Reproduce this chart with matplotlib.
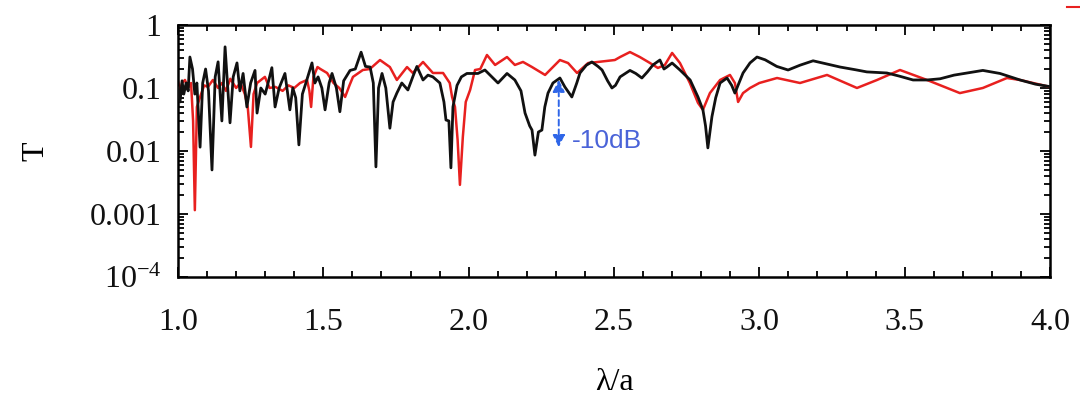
import matplotlib
matplotlib.use("Agg")
import matplotlib.pyplot as plt
from matplotlib.ticker import FixedLocator, FixedFormatter, MultipleLocator, LogLocator, NullFormatter
import numpy as np

# black series (lambda/a, T)
black_x = [1.0, 1.007, 1.014, 1.02, 1.028, 1.035, 1.041, 1.05, 1.058, 1.065, 1.076, 1.085, 1.095, 1.105,
           1.117, 1.128, 1.138, 1.151, 1.162, 1.17, 1.179, 1.19, 1.203, 1.213, 1.224, 1.237, 1.25, 1.265,
           1.272, 1.285, 1.3, 1.31, 1.323, 1.334, 1.348, 1.368, 1.385, 1.395, 1.405, 1.416, 1.428, 1.44,
           1.461, 1.471, 1.482, 1.495, 1.506, 1.52, 1.53, 1.545, 1.557, 1.57, 1.592, 1.61, 1.63, 1.645,
           1.661, 1.672, 1.681, 1.69, 1.702, 1.715, 1.729, 1.74, 1.753, 1.77, 1.791, 1.81, 1.822, 1.843,
           1.86, 1.877, 1.901, 1.915, 1.922, 1.932, 1.939, 1.946, 1.96, 1.975, 1.994, 2.01, 2.032, 2.056,
           2.08, 2.101, 2.132, 2.159, 2.18, 2.194, 2.21, 2.218, 2.228, 2.24, 2.252, 2.262, 2.273, 2.29,
           2.314, 2.331, 2.355, 2.372, 2.383, 2.405, 2.424, 2.445, 2.459, 2.478, 2.493, 2.505, 2.521,
           2.555, 2.575, 2.596, 2.615, 2.634, 2.658, 2.672, 2.682, 2.7, 2.727, 2.762, 2.789, 2.806, 2.815,
           2.823, 2.83, 2.837, 2.85, 2.865, 2.889, 2.905, 2.916, 2.93, 2.944, 2.968, 2.992, 3.02, 3.06,
           3.099, 3.14, 3.185, 3.233, 3.278, 3.33, 3.37, 3.439, 3.48, 3.529, 3.577, 3.622, 3.67, 3.714,
           3.769, 3.828, 3.897, 3.95, 4.0]
black_T = [0.1, 0.06, 0.13, 0.08, 0.12, 0.09, 0.31, 0.2, 0.08, 0.12, 0.0115, 0.12, 0.2, 0.09,
           0.005, 0.15, 0.26, 0.03, 0.45, 0.12, 0.028, 0.15, 0.25, 0.09, 0.17, 0.05, 0.12, 0.19,
           0.04, 0.1, 0.08, 0.12, 0.21, 0.05, 0.1, 0.17, 0.045, 0.1, 0.07, 0.0125, 0.08, 0.12,
           0.25, 0.12, 0.15, 0.1, 0.045, 0.12, 0.17, 0.1, 0.042, 0.13, 0.19, 0.2, 0.37, 0.22,
           0.215, 0.12, 0.0056, 0.1, 0.17, 0.1, 0.023, 0.06, 0.083, 0.12, 0.093, 0.16, 0.22, 0.134,
           0.16, 0.15, 0.12, 0.06, 0.031, 0.03, 0.0054, 0.05, 0.11, 0.15, 0.17, 0.17, 0.17, 0.193,
           0.15, 0.12, 0.17, 0.134, 0.09, 0.04, 0.025, 0.0215, 0.0086, 0.02, 0.0215, 0.05, 0.083, 0.12,
           0.144, 0.104, 0.072, 0.12, 0.173, 0.23, 0.259, 0.22, 0.193, 0.13, 0.1, 0.11, 0.15,
           0.19, 0.17, 0.144, 0.18, 0.232, 0.278, 0.2, 0.215, 0.249, 0.193, 0.134, 0.072, 0.045, 0.025,
           0.0112, 0.02, 0.035, 0.07, 0.12, 0.144, 0.11, 0.083, 0.12, 0.173, 0.25, 0.31, 0.28, 0.22,
           0.193, 0.23, 0.27, 0.24, 0.215, 0.195, 0.18, 0.173, 0.155, 0.134, 0.134, 0.14, 0.16, 0.173,
           0.19, 0.17, 0.134, 0.115, 0.105]

# red series (lambda/a, T)
red_x = [1.0, 1.007, 1.014, 1.024, 1.035, 1.045, 1.052, 1.058, 1.065, 1.076, 1.09, 1.103, 1.12, 1.138,
         1.151, 1.165, 1.18, 1.2, 1.215, 1.23, 1.24, 1.251, 1.26, 1.272, 1.299, 1.315, 1.335, 1.36,
         1.38, 1.4, 1.42, 1.444, 1.452, 1.458, 1.466, 1.48, 1.49, 1.513, 1.535, 1.555, 1.575, 1.59,
         1.602, 1.636, 1.66, 1.695, 1.729, 1.753, 1.788, 1.808, 1.843, 1.877, 1.912, 1.935, 1.943,
         1.953, 1.962, 1.97, 1.98, 1.99, 2.005, 2.022, 2.04, 2.063, 2.091, 2.132, 2.159, 2.187, 2.218,
         2.263, 2.314, 2.342, 2.373, 2.411, 2.445, 2.503, 2.521, 2.555, 2.589, 2.624, 2.651, 2.675,
         2.7, 2.727, 2.761, 2.789, 2.806, 2.83, 2.865, 2.899, 2.916, 2.927, 2.944, 2.968, 3.0, 3.061,
         3.14, 3.233, 3.336, 3.405, 3.484, 3.577, 3.69, 3.769, 3.852, 3.897, 4.0]
red_T = [0.13, 0.09, 0.12, 0.134, 0.1, 0.12, 0.03, 0.00115, 0.05, 0.072, 0.11, 0.104, 0.134, 0.1,
         0.12, 0.09, 0.14, 0.1, 0.12, 0.08, 0.05, 0.0116, 0.08, 0.12, 0.15, 0.1, 0.104, 0.09,
         0.11, 0.1, 0.12, 0.134, 0.09, 0.05, 0.15, 0.215, 0.2, 0.173, 0.12, 0.1, 0.072, 0.11,
         0.15, 0.193, 0.2, 0.278, 0.215, 0.134, 0.215, 0.173, 0.259, 0.173, 0.173, 0.12, 0.072,
         0.05, 0.015, 0.0029, 0.0167, 0.06, 0.093, 0.193, 0.2, 0.334, 0.232, 0.31, 0.232, 0.259, 0.215,
         0.161, 0.278, 0.249, 0.173, 0.249, 0.259, 0.278, 0.31, 0.372, 0.31, 0.249, 0.208, 0.232,
         0.36, 0.249, 0.12, 0.058, 0.045, 0.083, 0.134, 0.161, 0.12, 0.06, 0.083, 0.1, 0.12, 0.144,
         0.12, 0.161, 0.1, 0.134, 0.193, 0.134, 0.083, 0.1, 0.144, 0.134, 0.104]

y_ticks = [1e-4, 1e-3, 1e-2, 1e-1, 1]
y_ticklabels = ["10$^{-4}$", "0.001", "0.01", "0.1", "1"]
x_ticks = [1.0, 1.5, 2.0, 2.5, 3.0, 3.5, 4.0]
x_ticklabels = ["1.0", "1.5", "2.0", "2.5", "3.0", "3.5", "4.0"]

# annotation: -10 dB arrow
arrow_x = 2.31
arrow_top = 0.135
arrow_bottom = 0.0115
annot_text = "-10dB"

plt.rcParams["mathtext.fontset"] = "custom"
plt.rcParams["mathtext.rm"] = "Liberation Serif"
plt.rcParams["mathtext.it"] = "Liberation Serif:italic"
serif = "Liberation Serif"

fig = plt.figure(figsize=(10.8, 4.03), dpi=100)
ax = fig.add_axes([0.1648, 0.3127, 0.8074, 0.6253])

ax.plot(red_x, red_T, color="#e8201f", lw=1.8, zorder=2)
ax.plot(black_x, black_T, color="#111111", lw=2.0, zorder=3)

ax.set_yscale("log")
ax.set_xlim(1.0, 4.0)
ax.set_ylim(1e-4, 1)

ax.yaxis.set_major_locator(FixedLocator(y_ticks))
ax.yaxis.set_major_formatter(FixedFormatter(y_ticklabels))
ax.yaxis.set_minor_locator(LogLocator(base=10, subs=np.arange(2, 10)))
ax.yaxis.set_minor_formatter(NullFormatter())
ax.xaxis.set_major_locator(FixedLocator(x_ticks))
ax.xaxis.set_major_formatter(FixedFormatter(x_ticklabels))
ax.xaxis.set_minor_locator(MultipleLocator(0.1))

ax.tick_params(which="both", direction="in", top=True, right=True, width=1.3, color="black")
ax.tick_params(which="major", length=7)
ax.tick_params(which="minor", length=4)
ax.tick_params(axis="x", which="major", pad=22)
ax.tick_params(axis="y", which="major", pad=12)
for lab in ax.get_xticklabels() + ax.get_yticklabels():
    lab.set_fontfamily(serif)
    lab.set_fontsize(23)
    lab.set_color("#111111")
for sp in ax.spines.values():
    sp.set_linewidth(1.8)

ax.set_xlabel("λ/a", fontfamily=serif, fontsize=23, labelpad=23)
ax.set_ylabel("T", fontfamily=serif, fontsize=23, labelpad=28)

# dashed double arrow
ax.annotate("", xy=(arrow_x, arrow_top), xytext=(arrow_x, arrow_bottom),
            arrowprops=dict(arrowstyle="<|-|>", linestyle=(0, (3, 2)), color="#2f66e8",
                            lw=1.4, mutation_scale=18, shrinkA=0, shrinkB=0))
ax.text(arrow_x + 0.045, 0.0145, annot_text, color="#4a63d8", fontfamily="Liberation Sans",
        fontsize=19, va="center", ha="left")

# small red mark at top right (cut-off legend)
fig.add_artist(plt.Line2D([0.988, 1.0], [0.983, 0.983], color="#e8201f", lw=1.5))

fig.savefig("out.png", dpi=100)
